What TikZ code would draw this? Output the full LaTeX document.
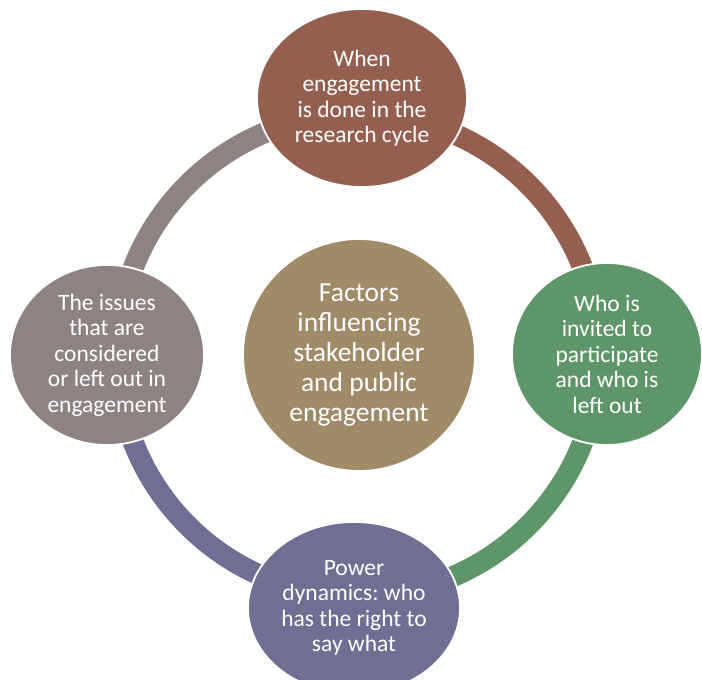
\documentclass[tikz,border=0pt]{standalone}
\usepackage{fontspec}
\setmainfont{Carlito}
\frenchspacing
\usetikzlibrary{shapes.geometric}
\definecolor{cbrown}{HTML}{945F4F}
\definecolor{cgreen}{HTML}{5E9669}
\definecolor{cpurple}{HTML}{6F6E93}
\definecolor{cgray}{HTML}{8E8283}
\definecolor{ctan}{HTML}{A08B69}
\tikzset{
  outer/.style={ellipse, draw=white, line width=1.8pt, inner sep=0pt, text=white, align=center,
    font=\fontsize{23.5}{25.5}\selectfont},
  hub/.style={circle, draw=white, line width=1.8pt, inner sep=0pt, text=white, align=center,
    fill=ctan, minimum size=232pt, font=\fontsize{27.5}{30}\selectfont},
  seg/.style={line width=21pt}
}
\begin{document}
\begin{tikzpicture}[x=1pt,y=1pt]
\useasboundingbox (0,0) rectangle (702,680);
\coordinate (O) at (358,325);
% ring segments
\draw[seg, cbrown]  ([shift={(90:241)}]O) arc[start angle=90, end angle=0, radius=241];
\draw[seg, cgreen]  ([shift={(0:241)}]O) arc[start angle=0, end angle=-90, radius=241];
\draw[seg, cpurple] ([shift={(-90:241)}]O) arc[start angle=-90, end angle=-180, radius=241];
\draw[seg, cgray]   ([shift={(180:241)}]O) arc[start angle=180, end angle=90, radius=241];
% center
\node[hub] (hub) at (359,325) {Factors\\influencing\\stakeholder\\and public\\engagement};
% outer nodes
\node[outer, fill=cbrown, minimum width=210pt, minimum height=178pt] (top) at (362,582)
  {When\\engagement\\is done in the\\research cycle};
\node[outer, fill=cgreen, minimum width=190pt, minimum height=182pt] (right) at (607,326)
  {Who is\\invited to\\participate\\and who is\\left out};
\node[outer, fill=cpurple, minimum width=212pt, minimum height=172pt] (bottom) at (354,72)
  {Power\\dynamics: who\\has the right to\\say what};
\node[outer, fill=cgray, minimum width=194pt, minimum height=180pt] (left) at (107,325)
  {The issues\\that are\\considered\\or left out in\\engagement};
\end{tikzpicture}
\end{document}
